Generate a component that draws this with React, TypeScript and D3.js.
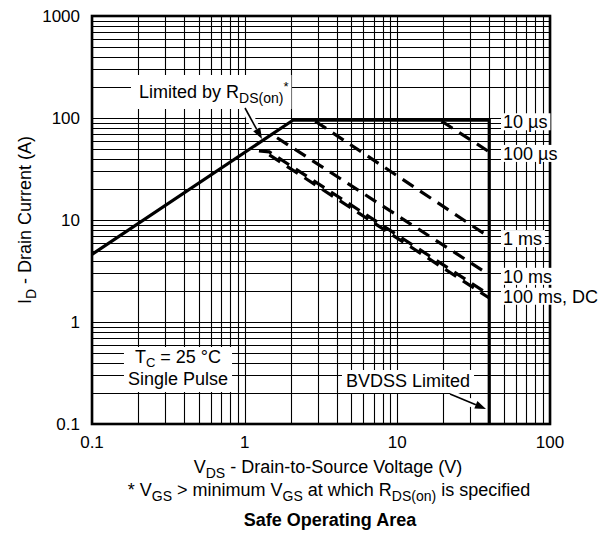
import React, { useEffect, useRef } from "react";
import * as d3 from "d3";

// ---- data ----
const xTickValues = [0.1, 1, 10, 100];
const xTickLabels = ["0.1", "1", "10", "100"];
const yTickValues = [0.1, 1, 10, 100, 1000];
const yTickLabels = ["0.1", "1", "10", "100", "1000"];

// solid operating limit (RDS(on) line, 10 µs current limit, BVDSS)
const limitVoltage = [0.1, 2.07, 40, 40];
const limitCurrent = [4.6, 95, 95, 0.1];

// dashed pulse-width limits
const soaNames = ["100 µs", "1 ms", "10 ms", "100 ms", "DC"];
const soaVoltage = [
  [19.5, 40],
  [2.9, 40],
  [1.63, 40],
  [1.24, 1.45, 40],
  [1.45, 40],
];
const soaCurrent = [
  [93, 46.5],
  [93, 6.8],
  [64, 2.9],
  [47.5, 46.5, 1.85],
  [43.5, 1.72],
];

const curveLabels = ["10 µs", "100 µs", "1 ms", "10 ms", "100 ms, DC"];
const curveLabelCurrent = [95, 46.5, 6.8, 2.9, 1.85];

const W = 611;
const H = 533;
const FONT = "'Liberation Sans', Arial, Helvetica, sans-serif";

export default function App() {
  const ref = useRef<SVGSVGElement>(null);

  useEffect(() => {
    const svg = d3.select(ref.current);
    svg.selectAll("*").remove();

    const left = 92, right = 550, top = 16, bottom = 424;
    const x = d3.scaleLog().domain([0.1, 100]).range([left, right]);
    const y = d3.scaleLog().domain([0.1, 1000]).range([bottom, top]);
    const crisp = (v: number) => Math.round(v) + 0.5;

    svg.append("rect").attr("width", W).attr("height", H).attr("fill", "#fff");

    // grid
    const grid = svg.append("g").attr("stroke", "#000").attr("stroke-width", 1.1);
    grid
      .selectAll("line.v")
      .data(x.ticks())
      .join("line")
      .attr("x1", (d) => crisp(x(d)))
      .attr("x2", (d) => crisp(x(d)))
      .attr("y1", top)
      .attr("y2", bottom);
    grid
      .selectAll("line.h")
      .data(y.ticks())
      .join("line")
      .attr("x1", left)
      .attr("x2", right)
      .attr("y1", (d) => crisp(y(d)))
      .attr("y2", (d) => crisp(y(d)));

    // dashed curves
    const line = d3
      .line<[number, number]>()
      .x((d) => x(d[0]))
      .y((d) => y(d[1]));
    soaNames.forEach((name, i) => {
      const pts = soaVoltage[i].map((v, j) => [v, soaCurrent[i][j]] as [number, number]);
      svg
        .append("path")
        .attr("d", line(pts))
        .attr("fill", "none")
        .attr("stroke", "#000")
        .attr("stroke-width", 3.2)
        .attr("stroke-dasharray", "13,8")
        .attr("data-name", name);
    });

    // solid limit
    const limitPts = limitVoltage.map((v, j) => [v, limitCurrent[j]] as [number, number]);
    svg
      .append("path")
      .attr("d", line(limitPts))
      .attr("fill", "none")
      .attr("stroke", "#000")
      .attr("stroke-width", 3.2)
      .attr("stroke-linejoin", "miter");

    // border
    svg
      .append("rect")
      .attr("x", left)
      .attr("y", top)
      .attr("width", right - left)
      .attr("height", bottom - top)
      .attr("fill", "none")
      .attr("stroke", "#000")
      .attr("stroke-width", 2.6);

    // tick labels
    svg
      .append("g")
      .selectAll("text")
      .data(xTickValues)
      .join("text")
      .attr("x", (d) => x(d))
      .attr("y", 448)
      .attr("text-anchor", "middle")
      .attr("font-family", FONT)
      .attr("font-size", 17)
      .text((d, i) => xTickLabels[i]);
    svg
      .append("g")
      .selectAll("text")
      .data(yTickValues)
      .join("text")
      .attr("x", 80)
      .attr("y", (d) => y(d) + 6)
      .attr("text-anchor", "end")
      .attr("font-family", FONT)
      .attr("font-size", 17)
      .text((d, i) => yTickLabels[i]);

    // helper for white-backed label
    const boxed = (
      build: (g: any) => void,
      pad: { l: number; r: number; t: number; b: number }
    ) => {
      const g = svg.append("g");
      const rect = g.append("rect").attr("fill", "#fff");
      const t = g.append("g");
      build(t);
      const bb = (t.node() as SVGGElement).getBBox();
      rect
        .attr("x", bb.x - pad.l)
        .attr("y", bb.y - pad.t)
        .attr("width", bb.width + pad.l + pad.r)
        .attr("height", bb.height + pad.t + pad.b);
    };

    // right curve labels
    curveLabels.forEach((lab, i) => {
      boxed(
        (g) =>
          g
            .append("text")
            .attr("x", 503)
            .attr("y", y(curveLabelCurrent[i]) + 8)
            .attr("font-family", FONT)
            .attr("font-size", 18)
            .text(lab),
        { l: 2, r: 3, t: -1, b: -2 }
      );
    });

    // Limited by RDS(on)
    boxed(
      (g) => {
        const t = g
          .append("text")
          .attr("x", 139)
          .attr("y", 98)
          .attr("font-family", FONT)
          .attr("font-size", 18);
        t.append("tspan").text("Limited by R");
        t.append("tspan").attr("dy", 5).attr("font-size", 14).text("DS(on)");
        t.append("tspan").attr("dy", -12).attr("font-size", 13).text("*");
      },
      { l: 8, r: 3, t: 4, b: 3 }
    );

    // Tc box
    boxed(
      (g) => {
        const t1 = g
          .append("text")
          .attr("x", 178)
          .attr("y", 363)
          .attr("text-anchor", "middle")
          .attr("font-family", FONT)
          .attr("font-size", 18);
        t1.append("tspan").text("T");
        t1.append("tspan").attr("dy", 4).attr("font-size", 13).text("C");
        t1.append("tspan").attr("dy", -4).text(" = 25 °C");
        g.append("text")
          .attr("x", 178)
          .attr("y", 385)
          .attr("text-anchor", "middle")
          .attr("font-family", FONT)
          .attr("font-size", 18)
          .text("Single Pulse");
      },
      { l: 4, r: 4, t: 0, b: 3 }
    );

    // BVDSS
    boxed(
      (g) =>
        g
          .append("text")
          .attr("x", 408)
          .attr("y", 387)
          .attr("text-anchor", "middle")
          .attr("font-family", FONT)
          .attr("font-size", 18)
          .text("BVDSS Limited"),
      { l: 4, r: 4, t: 1, b: 2 }
    );

    // arrows
    const arrow = (x1: number, y1: number, x2: number, y2: number) => {
      const ang = Math.atan2(y2 - y1, x2 - x1);
      const hl = 11, hw = 4;
      const bx = x2 - hl * Math.cos(ang), by = y2 - hl * Math.sin(ang);
      svg
        .append("line")
        .attr("x1", x1).attr("y1", y1).attr("x2", bx).attr("y2", by)
        .attr("stroke", "#fff").attr("stroke-width", 8);
      svg
        .append("line")
        .attr("x1", x1).attr("y1", y1).attr("x2", bx).attr("y2", by)
        .attr("stroke", "#000").attr("stroke-width", 1.6);
      const p1 = [bx + hw * Math.sin(ang), by - hw * Math.cos(ang)];
      const p2 = [bx - hw * Math.sin(ang), by + hw * Math.cos(ang)];
      svg
        .append("path")
        .attr("d", `M${x2},${y2}L${p1[0]},${p1[1]}L${p2[0]},${p2[1]}Z`)
        .attr("fill", "#000");
    };
    arrow(245, 108, 262, 139);
    arrow(450, 394, 486, 409);

    // axis titles
    const yt = svg
      .append("text")
      .attr("transform", "translate(31,220) rotate(-90)")
      .attr("text-anchor", "middle")
      .attr("font-family", FONT)
      .attr("font-size", 18);
    yt.append("tspan").text("I");
    yt.append("tspan").attr("dy", 5).attr("font-size", 14).text("D");
    yt.append("tspan").attr("dy", -5).text(" - Drain Current (A)");

    const xt = svg
      .append("text")
      .attr("x", 328)
      .attr("y", 473)
      .attr("text-anchor", "middle")
      .attr("font-family", FONT)
      .attr("font-size", 18);
    xt.append("tspan").text("V");
    xt.append("tspan").attr("dy", 5).attr("font-size", 14).text("DS");
    xt.append("tspan").attr("dy", -5).text(" - Drain-to-Source Voltage (V)");

    const fn = svg
      .append("text")
      .attr("x", 329)
      .attr("y", 496)
      .attr("text-anchor", "middle")
      .attr("font-family", FONT)
      .attr("font-size", 18);
    fn.append("tspan").text("* V");
    fn.append("tspan").attr("dy", 5).attr("font-size", 14).text("GS");
    fn.append("tspan").attr("dy", -5).text(" >  minimum V");
    fn.append("tspan").attr("dy", 5).attr("font-size", 14).text("GS");
    fn.append("tspan").attr("dy", -5).text(" at which R");
    fn.append("tspan").attr("dy", 5).attr("font-size", 14).text("DS(on)");
    fn.append("tspan").attr("dy", -5).text(" is specified");

    svg
      .append("text")
      .attr("x", 330)
      .attr("y", 526)
      .attr("text-anchor", "middle")
      .attr("font-family", FONT)
      .attr("font-size", 18)
      .attr("font-weight", "bold")
      .text("Safe Operating Area");
  }, []);

  return (
    <svg
      ref={ref}
      width={W}
      height={H}
      style={{ position: "absolute", left: 0, top: 0, display: "block" }}
    />
  );
}
